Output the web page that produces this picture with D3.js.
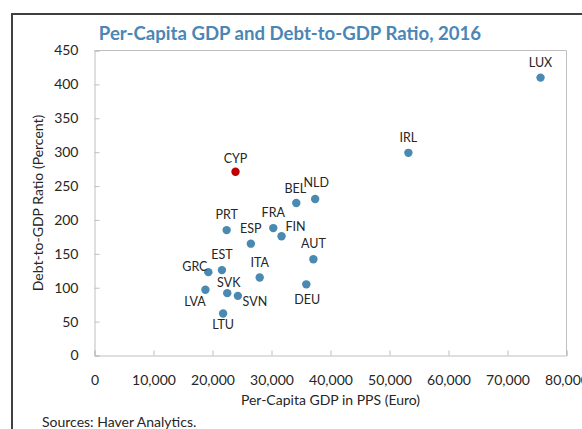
<!DOCTYPE html>
<html>
<head>
<meta charset="utf-8">
<script src="https://cdn.jsdelivr.net/npm/d3@7"></script>
<style>
  html, body { margin: 0; padding: 0; background: #fff; }
  svg { display: block; }
  text { font-family: Lato, "Open Sans", sans-serif; }
</style>
</head>
<body>
<svg id="chart" width="582" height="429"></svg>
<script>
// Country codes, per-capita GDP in PPS (euro) and debt-to-GDP ratio (percent), 2016
const countries = ["LUX","IRL","CYP","NLD","BEL","FRA","FIN","PRT","ESP","AUT","EST","GRC","ITA","DEU","LVA","SVK","SVN","LTU"];
const gdpPerCapita = [75600, 53200, 23900, 37400, 34200, 30300, 31700, 22400, 26500, 37100, 21600, 19300, 28000, 35900, 18800, 22500, 24300, 21800];
const debtRatio = [410, 299, 271, 231, 225, 188, 176, 185, 165, 142, 126, 123, 115, 105, 97, 92, 88, 62];
const highlighted = ["CYP"];

const xTicks = [0, 10000, 20000, 30000, 40000, 50000, 60000, 70000, 80000];
const yTicks = [0, 50, 100, 150, 200, 250, 300, 350, 400, 450];

// Label offsets (px) from each point, so neighbouring labels don't collide
const labelOffset = {
  LUX: [0, -15.5], IRL: [0, -15.5], CYP: [0, -13], NLD: [1, -16], BEL: [-1, -15],
  FRA: [0, -15.5], FIN: [14, -9.5], PRT: [0, -16], ESP: [0, -15.5], AUT: [0, -15.5],
  EST: [0, -15.5], GRC: [-13.5, -5.5], ITA: [0, -15], DEU: [1, 15], LVA: [-10.5, 11.5],
  SVK: [1.5, -10.5], SVN: [17, 5.5], LTU: [0, 11]
};

const points = countries.map((c, i) => ({ code: c, x: gdpPerCapita[i], y: debtRatio[i] }));

const svg = d3.select("#chart");
const plot = { left: 94.5, right: 566.5, top: 50.5, bottom: 355.5 };

const x = d3.scaleLinear().domain([0, 80000]).range([plot.left, plot.right]);
const y = d3.scaleLinear().domain([0, 450]).range([plot.bottom, plot.top]);

const textColor = "#262626";
const axisColor = "#bfbfbf";

// outer frame
svg.append("rect")
  .attr("x", 12).attr("y", 14)
  .attr("width", 620).attr("height", 460)
  .attr("fill", "none").attr("stroke", "#404040").attr("stroke-width", 2);

// title
svg.append("text")
  .attr("x", 290).attr("y", 40)
  .attr("text-anchor", "middle")
  .attr("fill", "#4a86b6")
  .attr("font-weight", "bold")
  .attr("font-size", 18.6)
  .text("Per-Capita GDP and Debt-to-GDP Ratio, 2016");

// plot frame (top and right edges)
svg.append("path")
  .attr("d", `M${plot.left},${plot.top}H${plot.right}V${plot.bottom}`)
  .attr("fill", "none").attr("stroke", axisColor).attr("stroke-width", 1);

// x axis, ticks pointing into the plot
const xAxis = d3.axisBottom(x)
  .tickValues(xTicks)
  .tickSize(-5)
  .tickPadding(20)
  .tickFormat(d3.format(","));
const gx = svg.append("g").attr("transform", `translate(0,${plot.bottom})`).call(xAxis);
gx.select(".domain").attr("stroke", axisColor);
gx.selectAll(".tick line").attr("stroke", axisColor);
gx.selectAll(".tick text").attr("fill", textColor).attr("font-size", 14)
  .attr("font-family", "Lato, sans-serif");

// y axis, ticks pointing into the plot
const yAxis = d3.axisLeft(y)
  .tickValues(yTicks)
  .tickSize(-5)
  .tickPadding(16)
  .tickFormat(d3.format("d"));
const gy = svg.append("g").attr("transform", `translate(${plot.left},0)`).call(yAxis);
gy.select(".domain").attr("stroke", axisColor);
gy.selectAll(".tick line").attr("stroke", axisColor);
gy.selectAll(".tick text").attr("fill", textColor).attr("font-size", 14)
  .attr("font-family", "Lato, sans-serif");

// axis titles
svg.append("text")
  .attr("x", (plot.left + plot.right) / 2).attr("y", 405)
  .attr("text-anchor", "middle").attr("fill", textColor).attr("font-size", 14)
  .text("Per-Capita GDP in PPS (Euro)");

svg.append("text")
  .attr("transform", `translate(43,${(plot.top + plot.bottom) / 2}) rotate(-90)`)
  .attr("text-anchor", "middle").attr("fill", textColor).attr("font-size", 14)
  .text("Debt-to-GDP Ratio (Percent)");

// points
svg.append("g").selectAll("circle")
  .data(points)
  .join("circle")
  .attr("cx", d => x(d.x))
  .attr("cy", d => y(d.y))
  .attr("r", 4.2)
  .attr("fill", d => highlighted.includes(d.code) ? "#c00000" : "#4a8ab2");

// point labels
svg.append("g").selectAll("text")
  .data(points)
  .join("text")
  .attr("x", d => x(d.x) + labelOffset[d.code][0])
  .attr("y", d => y(d.y) + labelOffset[d.code][1])
  .attr("dy", "0.36em")
  .attr("text-anchor", "middle")
  .attr("fill", textColor)
  .attr("font-size", 12.5)
  .text(d => d.code);

// source note
svg.append("text")
  .attr("x", 42).attr("y", 427)
  .attr("fill", textColor).attr("font-size", 14)
  .text("Sources: Haver Analytics.");
</script>
</body>
</html>
